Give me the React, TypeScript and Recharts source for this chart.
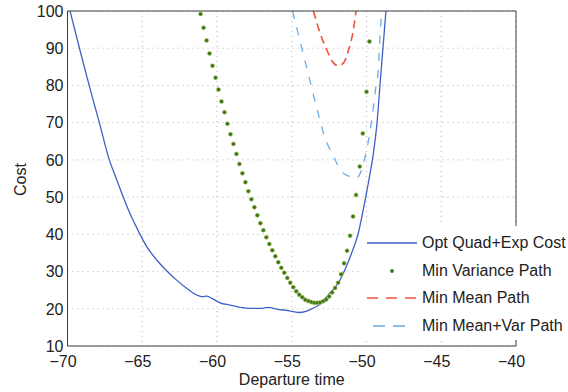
import React from "react";
import {
  ComposedChart,
  Line,
  XAxis,
  YAxis,
  CartesianGrid,
  Legend,
} from "recharts";

// tick values
const xTicks = [-70, -65, -60, -55, -50, -45, -40];
const yTicks = [10, 20, 30, 40, 50, 60, 70, 80, 90, 100];

// Opt Quad+Exp Cost (solid blue)
const optX = [
  -69.83, -69.2, -68.55, -67.87, -67.2, -66.7, -66.3, -65.82, -65.2, -64.7, -64.03,
  -63.37, -62.7, -62.03, -61.36, -60.95, -60.7, -60.35, -59.8, -59.15, -58.45, -57.8,
  -57.1, -56.55, -56.0, -55.25, -54.55, -54.0, -53.6, -53.1, -52.45, -51.9, -51.45,
  -51.0, -50.55, -50.2, -49.8, -49.55, -49.3, -49.1, -48.9, -48.7,
];
const optY = [
  100, 90, 80, 70, 60, 54.6, 50.3, 45.6, 40.4, 36.7, 33.1, 30.2, 27.7, 25.5, 23.7, 23.2,
  23.4, 22.8, 21.6, 21.0, 20.4, 20.1, 20.1, 20.4, 19.9, 19.5, 19.0, 19.4, 20.1, 21.3,
  24.2, 26.8, 30.4, 34.9, 40.3, 47.0, 55.5, 61.5, 69.8, 80, 90, 100,
];

// Min Variance Path (green dots)
const varX = [
  -61.1, -60.9, -60.7, -60.5, -60.3, -60.1, -59.9, -59.7, -59.5, -59.3, -59.1, -58.9,
  -58.7, -58.5, -58.3, -58.1, -57.9, -57.7, -57.5, -57.3, -57.1, -56.9, -56.7, -56.5,
  -56.3, -56.1, -55.9, -55.7, -55.5, -55.3, -55.1, -54.9, -54.7, -54.5, -54.3, -54.1,
  -53.9, -53.7, -53.5, -53.3, -53.1, -52.9, -52.7, -52.5, -52.3, -52.1, -51.9, -51.7,
  -51.5, -51.3, -51.1, -50.9, -50.7, -50.45, -50.25, -50.0, -49.8,
];
const varY = [
  99.2, 95.5, 92.1, 88.6, 85.3, 82.1, 78.9, 75.7, 72.8, 69.7, 66.9, 64.3, 61.6, 58.9,
  56.4, 54.0, 51.6, 49.4, 47.3, 45.1, 43.0, 41.1, 39.2, 37.4, 35.7, 34.1, 32.5, 31.0,
  29.7, 28.3, 27.0, 25.8, 24.7, 23.8, 23.1, 22.4, 22.1, 21.8, 21.6, 21.6, 21.7, 22.0,
  22.5, 23.3, 24.4, 25.6, 27.0, 29.3, 32.2, 35.6, 39.6, 44.8, 50.6, 58.2, 67.1, 78.3,
  91.8,
];

// Min Mean Path (red dashed)
const meanX = [-53.55, -53.1, -52.65, -52.2, -51.9, -51.55, -51.2, -50.9, -50.7];
const meanY = [100, 94, 89.5, 86, 85.3, 86, 89.5, 94.4, 100];

// Min Mean+Var Path (light blue dashed)
const meanVarX = [
  -54.95, -54.35, -53.8, -53.35, -52.8, -52.2, -51.65, -51.1, -50.85, -50.55, -50.2,
  -49.9, -49.65, -49.4, -49.2, -49.1, -48.98,
];
const meanVarY = [
  100, 90.4, 81.5, 74.3, 66.2, 60.9, 56.8, 55.5, 55.0, 55.5, 59.1, 64.5, 70.7, 78.8,
  85, 93.1, 100,
];

const seriesNames = [
  "Opt Quad+Exp Cost",
  "Min Variance Path",
  "Min Mean Path",
  "Min Mean+Var Path",
];

const zip = (xs: number[], ys: number[]) => xs.map((x, i) => ({ x, y: ys[i] }));

const optData = zip(optX, optY);
const varData = zip(varX, varY);
const meanData = zip(meanX, meanY);
const meanVarData = zip(meanVarX, meanVarY);

const FONT = "'Liberation Sans', Arial, Helvetica, sans-serif";
const FS = 16;
const AXIS = "#3c3c3c";
const TEXT = "#222";
const BLUE = "#3f60c8";
const GREEN = "#3b7418";
const RED = "#f4533d";
const LIGHT = "#6cace4";

const fmtX = (v: number) => (v < 0 ? `\u2212${-v}` : `${v}`);

const XTick = (props: any) => {
  const { x, y, payload } = props;
  return (
    <text x={x - 4.5} y={y} dy="0.71em" textAnchor="middle" fontSize={FS} fontFamily={FONT} fill={TEXT}>
      {fmtX(payload.value)}
    </text>
  );
};

const YTick = (props: any) => {
  const { x, y, payload } = props;
  return (
    <text x={x} y={y} dy="0.36em" textAnchor="end" fontSize={FS} fontFamily={FONT} fill={TEXT}>
      {payload.value}
    </text>
  );
};

const LegendBox = () => {
  const sample = (i: number) => {
    if (i === 0) return <line x1={5} x2={55} y1={6} y2={6} stroke={BLUE} strokeWidth={1.3} />;
    if (i === 1) return <circle cx={30} cy={6} r={1.9} fill={GREEN} />;
    if (i === 2)
      return <line x1={5} x2={55} y1={6} y2={6} stroke={RED} strokeWidth={1.5} strokeDasharray="11 8" />;
    return <line x1={11} x2={45} y1={6} y2={6} stroke={LIGHT} strokeWidth={1.3} strokeDasharray="12 8" />;
  };
  return (
    <div
      style={{
        background: "#fff",
        width: 206,
        height: 114,
        paddingTop: 3,
        boxSizing: "border-box",
        fontFamily: FONT,
        fontSize: FS,
        color: TEXT,
      }}
    >
      {seriesNames.map((name, i) => (
        <div key={name} style={{ display: "flex", alignItems: "center", height: 27.7 }}>
          <svg width={60} height={12} style={{ flex: "none" }}>
            {sample(i)}
          </svg>
          <span style={{ whiteSpace: "nowrap" }}>{name}</span>
        </div>
      ))}
    </div>
  );
};

export default function App() {
  return (
    <div style={{ position: "absolute", left: 0, top: 0, width: 568, height: 392, background: "#fff" }}>
      <ComposedChart width={568} height={392} margin={{ top: 11, right: 52, left: 0, bottom: 0 }}>
        <CartesianGrid xAxisId="b" yAxisId="l" stroke="#b4b4aa" strokeDasharray="1 4" />
        <XAxis
          xAxisId="b"
          dataKey="x"
          type="number"
          domain={[-70, -40]}
          ticks={xTicks}
          allowDataOverflow
          height={46}
          tickSize={0}
          tickMargin={10}
          tickLine={false}
          axisLine={{ stroke: AXIS }}
          tick={<XTick />}
          label={({ viewBox }: any) => (
            <text
              x={viewBox.x + viewBox.width / 2}
              y={viewBox.y + 39}
              textAnchor="middle"
              fontSize={FS}
              fontFamily={FONT}
              fill={TEXT}
            >
              Departure time
            </text>
          )}
        />
        <XAxis
          xAxisId="bm"
          type="number"
          domain={[-70, -40]}
          ticks={xTicks}
          orientation="bottom"
          mirror
          tick={false}
          axisLine={false}
          tickSize={5}
          tickLine={{ stroke: AXIS }}
        />
        <XAxis
          xAxisId="tm"
          type="number"
          domain={[-70, -40]}
          ticks={xTicks}
          orientation="top"
          mirror
          tick={false}
          axisLine={{ stroke: AXIS }}
          tickSize={5}
          tickLine={{ stroke: AXIS }}
        />
        <YAxis
          yAxisId="l"
          type="number"
          domain={[10, 100]}
          ticks={yTicks}
          allowDataOverflow
          width={67.5}
          tickSize={0}
          tickMargin={4}
          tickLine={false}
          axisLine={{ stroke: AXIS }}
          tick={<YTick />}
          label={({ viewBox }: any) => {
            const lx = viewBox.x + 26;
            const ly = viewBox.y + viewBox.height / 2 + 1;
            return (
              <text
                x={lx}
                y={ly}
                textAnchor="middle"
                transform={`rotate(-90 ${lx} ${ly})`}
                fontSize={FS}
                fontFamily={FONT}
                fill={TEXT}
              >
                Cost
              </text>
            );
          }}
        />
        <YAxis
          yAxisId="lm"
          type="number"
          domain={[10, 100]}
          ticks={yTicks}
          orientation="left"
          mirror
          tick={false}
          axisLine={false}
          tickSize={5}
          tickLine={{ stroke: AXIS }}
        />
        <YAxis
          yAxisId="rm"
          type="number"
          domain={[10, 100]}
          ticks={yTicks}
          orientation="right"
          mirror
          tick={false}
          axisLine={{ stroke: AXIS }}
          tickSize={5}
          tickLine={{ stroke: AXIS }}
        />

        <Line
          xAxisId="b"
          yAxisId="l"
          data={optData}
          dataKey="y"
          name={seriesNames[0]}
          type="monotone"
          stroke={BLUE}
          strokeWidth={1.3}
          dot={false}
          isAnimationActive={false}
        />
        <Line
          xAxisId="b"
          yAxisId="l"
          data={meanData}
          dataKey="y"
          name={seriesNames[2]}
          type="monotone"
          stroke={RED}
          strokeWidth={1.6}
          strokeDasharray="8 5"
          dot={false}
          isAnimationActive={false}
        />
        <Line
          xAxisId="b"
          yAxisId="l"
          data={meanVarData}
          dataKey="y"
          name={seriesNames[3]}
          type="monotone"
          stroke={LIGHT}
          strokeWidth={1.3}
          strokeDasharray="8 9"
          dot={false}
          isAnimationActive={false}
        />
        <Line
          xAxisId="b"
          yAxisId="l"
          data={varData}
          dataKey="y"
          name={seriesNames[1]}
          stroke="none"
          dot={{ r: 2, fill: GREEN, stroke: "#a4bc50", strokeWidth: 0.6 }}
          isAnimationActive={false}
        />

        <Legend
          layout="vertical"
          align="center"
          verticalAlign="middle"
          content={() => <LegendBox />}
          wrapperStyle={{ left: 362, top: 226, width: 206, height: 114 }}
        />
      </ComposedChart>
    </div>
  );
}
